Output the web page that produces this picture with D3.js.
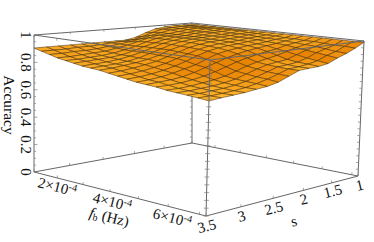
<!DOCTYPE html>
<html>
<head>
<meta charset="utf-8">
<script src="https://cdn.jsdelivr.net/npm/d3@7"></script>
<style>
html, body { margin:0; padding:0; background:#fff; }
svg { display:block; font-family:"Liberation Serif", serif; }
</style>
</head>
<body>
<div id="chart"></div>
<script>
const width = 374, height = 242;

// grid positions
const sValues = [3.5,3.333,3.167,3,2.833,2.667,2.5,2.333,2.167,2,1.833,1.667,1.5,1.333,1.167,1];
const fValues = d3.range(20).map(i => i);

// accuracy, one row per s value, one column per f position
const accuracy = [
 [.905,.89,.875,.86,.85,.84,.83,.825,.82,.81,.80,.79,.78,.775,.77,.76,.755,.75,.745,.737],
 [.905,.89,.875,.86,.85,.845,.835,.83,.825,.815,.805,.795,.785,.78,.77,.76,.755,.75,.745,.745],
 [.905,.89,.88,.865,.855,.85,.84,.835,.835,.825,.815,.805,.795,.785,.775,.765,.76,.755,.75,.75],
 [.905,.895,.88,.87,.86,.855,.85,.845,.845,.84,.83,.82,.81,.795,.785,.775,.765,.76,.755,.755],
 [.905,.895,.885,.875,.87,.865,.865,.86,.86,.855,.85,.84,.83,.815,.80,.785,.775,.77,.765,.765],
 [.905,.90,.895,.89,.885,.885,.885,.885,.88,.88,.875,.865,.85,.84,.82,.80,.79,.785,.78,.773],
 [.905,.905,.905,.905,.905,.91,.91,.91,.91,.905,.90,.895,.88,.865,.845,.825,.815,.805,.80,.79],
 [.905,.91,.915,.925,.93,.93,.935,.935,.93,.93,.925,.92,.91,.89,.87,.85,.84,.83,.825,.82],
 [.905,.915,.93,.945,.95,.95,.95,.95,.95,.945,.94,.935,.925,.91,.89,.87,.86,.855,.85,.85],
 [.92,.935,.95,.96,.96,.96,.96,.96,.96,.955,.95,.945,.935,.925,.905,.885,.87,.86,.855,.855],
 [.95,.96,.965,.965,.965,.965,.965,.965,.96,.96,.955,.95,.945,.935,.92,.90,.88,.87,.865,.858],
 [.975,.98,.98,.975,.975,.975,.97,.97,.97,.965,.96,.96,.95,.945,.93,.92,.905,.89,.88,.87],
 [.985,.985,.985,.985,.98,.98,.98,.975,.975,.97,.97,.965,.96,.955,.95,.94,.93,.92,.91,.90],
 [.99,.99,.99,.99,.99,.985,.985,.98,.98,.98,.975,.97,.97,.965,.96,.955,.95,.94,.93,.925],
 [.99,.99,.99,.99,.99,.99,.99,.99,.985,.985,.98,.98,.975,.975,.97,.97,.965,.96,.96,.955],
 [.99,.99,.99,.99,.99,.99,.99,.99,.99,.99,.99,.99,.99,.99,.99,.99,.99,.99,.99,.99]
];

const sTicks = [3.5,3,2.5,2,1.5,1];
const fMajor = [2e-4,4e-4,6e-4];
const fMinor = [2e-4,3e-4,4e-4,5e-4,6e-4,7e-4];
const zMajor = [0,.2,.4,.6,.8,1];
const zMinor = d3.range(0,21).map(d => d/20);

// box corners on screen: [s=3.5,fmin], [s=1,fmin], [s=1,fmax], [s=3.5,fmax]
const bottomQuad = [[34,172],[192,143],[358,176],[206,216]];
const topQuad = [[34,35],[192,23],[364,41],[210,60]];

function quadMap(q){
    const [[x0,y0],[x1,y1],[x2,y2],[x3,y3]] = q;
    const dx1 = x1-x2, dx2 = x3-x2, sx = x0-x1+x2-x3;
    const dy1 = y1-y2, dy2 = y3-y2, sy = y0-y1+y2-y3;
    const den = dx1*dy2 - dx2*dy1;
    const g = (sx*dy2 - dx2*sy)/den, h = (dx1*sy - sx*dy1)/den;
    const a = x1-x0+g*x1, b = x3-x0+h*x3;
    const d = y1-y0+g*y1, e = y3-y0+h*y3;
    return (u,v) => {
        const w = g*u + h*v + 1;
        return [(a*u + b*v + x0)/w, (d*u + e*v + y0)/w];
    };
}
const mapBottom = quadMap(bottomQuad), mapTop = quadMap(topQuad);

const sScale = d3.scaleLinear().domain([3.5,1]).range([0,1]);
const fScale = d3.scaleLinear().domain([1.05e-4,7.2e-4]).range([0,1]);
const gridF = d3.scaleLinear().domain([0,19]).range([0,1]);
const zScale = d3.scaleLinear().domain([0,1]).range([0,1]);

function project(u,v,z){
    const b = mapBottom(u,v), t = mapTop(u,v), w = zScale(z);
    return [b[0]+(t[0]-b[0])*w, b[1]+(t[1]-b[1])*w];
}

const svg = d3.select('#chart').append('svg')
    .attr('width',width).attr('height',height);

const edgeColor = '#666';
const line = d3.line();

function edge(g,a,b){
    g.append('path')
        .attr('d',line([project(...a),project(...b)]))
        .attr('fill','none').attr('stroke',edgeColor).attr('stroke-width',1);
}
function tick(g,p,dx,dy){
    g.append('path')
        .attr('d',line([p,[p[0]+dx,p[1]+dy]]))
        .attr('fill','none').attr('stroke','#808080').attr('stroke-width',0.7);
}

// edges behind the surface
const back = svg.append('g');
edge(back,[0,0,0],[1,0,0]);
edge(back,[1,0,0],[1,1,0]);
edge(back,[1,0,0],[1,0,1]);
edge(back,[0,0,1],[1,0,1]);
edge(back,[1,0,1],[1,1,1]);
sTicks.forEach(s => {
    tick(back,project(sScale(s),0,0),0,-2.5);
    tick(back,project(sScale(s),0,1),0,2);
});
fMinor.forEach(f => {
    tick(back,project(1,fScale(f),0),0,-2.5);
    tick(back,project(1,fScale(f),1),0,2);
});
zMinor.forEach(z => tick(back,project(1,0,z),-2,0));

// surface cells, far corner first
const shade = d3.scaleLinear().domain([0,.04]).range(['#ffb92e','#e98505']).clamp(true);
const cells = [];
for(let i = sValues.length-2; i >= 0; i--){
    for(let j = 0; j < fValues.length-1; j++){
        cells.push({i,j});
    }
}
const gridS = d3.scaleLinear().domain([3.5,1]).range([0,1]);
svg.append('g').selectAll('path').data(cells).join('path')
    .attr('d', d => {
        const pts = [[d.i,d.j],[d.i+1,d.j],[d.i+1,d.j+1],[d.i,d.j+1]]
            .map(([r,c]) => project(gridS(sValues[r]),gridF(fValues[c]),accuracy[r][c]));
        return line(pts)+'Z';
    })
    .attr('fill', d => {
        const a = accuracy;
        const ds = (a[d.i+1][d.j]+a[d.i+1][d.j+1]-a[d.i][d.j]-a[d.i][d.j+1])/2;
        const df = (a[d.i][d.j]+a[d.i+1][d.j]-a[d.i][d.j+1]-a[d.i+1][d.j+1])/2;
        return shade(ds+df);
    })
    .attr('stroke','#3f2603').attr('stroke-width',0.6).attr('stroke-opacity',0.85)
    .attr('stroke-linejoin','round');

// edges in front of the surface
const front = svg.append('g');
edge(front,[0,0,0],[0,1,0]);
edge(front,[0,1,0],[1,1,0]);
edge(front,[0,0,0],[0,0,1]);
edge(front,[0,1,0],[0,1,1]);
edge(front,[1,1,0],[1,1,1]);
edge(front,[0,0,1],[0,1,1]);
edge(front,[0,1,1],[1,1,1]);
fMinor.forEach(f => {
    tick(front,project(0,fScale(f),0),0,-2.5);
    tick(front,project(0,fScale(f),1),0,2.5);
});
sTicks.forEach(s => {
    tick(front,project(sScale(s),1,0),0,-2.5);
    tick(front,project(sScale(s),1,1),0,2.5);
});
zMinor.forEach(z => {
    tick(front,project(0,0,z),z*20%4==0 ? 3.5 : 2,0);
    tick(front,project(0,1,z),-2.5,0);
    tick(front,project(0,1,z),2.5,0);
    tick(front,project(1,1,z),-2.5,0);
});

// tick labels
const labels = svg.append('g').attr('fill','#111').attr('font-size',15);

labels.selectAll('text.z').data(zMajor).join('text').attr('class','z')
    .attr('text-anchor','middle')
    .attr('transform', d => {
        const p = project(0,0,d);
        return `translate(${p[0]-13},${p[1]}) rotate(90)`;
    })
    .text(d => d);

labels.append('text')
    .attr('font-size',15.5)
    .attr('transform','translate(4,105) rotate(90)')
    .attr('text-anchor','middle')
    .text('Accuracy');

const fLabelAt = {2:[37,187],4:[92,202],6:[152,218]};
fMajor.forEach(f => {
    const k = Math.round(f*1e4);
    const t = labels.append('text')
        .attr('transform',`translate(${fLabelAt[k][0]},${fLabelAt[k][1]}) rotate(14)`);
    t.append('tspan').text(`${k}×10`);
    t.append('tspan').attr('font-size',10).attr('dy',-5).text('-4');
});

const fTitle = labels.append('text')
    .attr('transform','translate(108,222) rotate(14)')
    .attr('text-anchor','middle');
fTitle.append('tspan').attr('font-style','italic').text('f');
fTitle.append('tspan').attr('font-size',10).attr('dy',2).text('b');
fTitle.append('tspan').attr('dy',-2).text(' (Hz)');

const sLabelAt = [[208,231],[243,221],[275,213],[305,204],[334,196],[361,190]];
labels.selectAll('text.s').data(sTicks).join('text').attr('class','s')
    .attr('text-anchor','middle')
    .attr('transform',(d,i) => `translate(${sLabelAt[i][0]},${sLabelAt[i][1]}) rotate(-14)`)
    .text(d => d);

labels.append('text')
    .attr('transform','translate(295,226) rotate(-14)')
    .attr('text-anchor','middle')
    .text('s');
</script>
</body>
</html>
